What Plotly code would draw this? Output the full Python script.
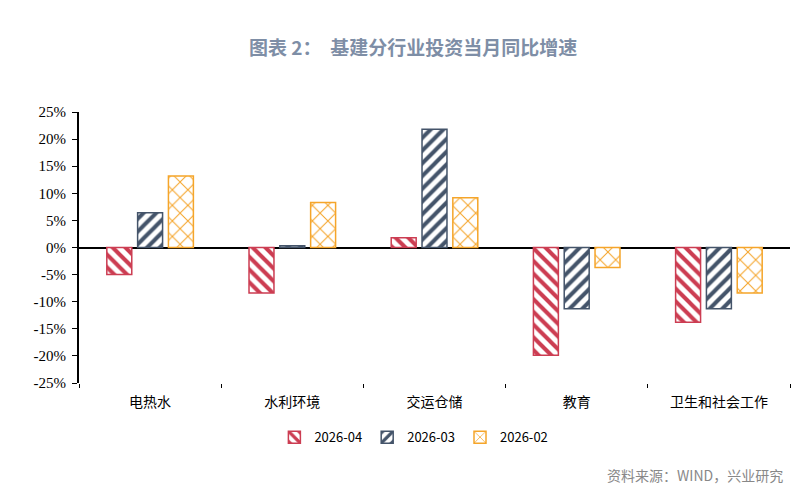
import plotly.graph_objects as go

# 基建分行业投资当月同比增速 (%)
categories = ["电热水", "水利环境", "交运仓储", "教育", "卫生和社会工作"]
apr_2026 = [-5.0, -8.4, 1.8, -19.9, -13.8]
mar_2026 = [6.4, 0.3, 21.8, -11.3, -11.3]
feb_2026 = [13.2, 8.3, 9.2, -3.7, -8.4]

series_names = ["2026-04", "2026-03", "2026-02"]
y_ticks = [25, 20, 15, 10, 5, 0, -5, -10, -15, -20, -25]
y_labels = ["25%", "20%", "15%", "10%", "5%", "0%", "-5%", "-10%", "-15%", "-20%", "-25%"]

RED = "#CC3D52"
BLUE = "#44546A"
ORANGE = "#F5A52A"

fig = go.Figure()

# 三组柱子：红色反斜线、蓝色斜线、橙色网格
for name, vals, color, shape, size, solid in [
    (series_names[0], apr_2026, RED, "\\", 9, 0.45),
    (series_names[1], mar_2026, BLUE, "/", 9, 0.45),
    (series_names[2], feb_2026, ORANGE, "x", 11, 0.18),
]:
    fig.add_trace(go.Bar(
        name=name,
        x=categories,
        y=vals,
        marker=dict(
            color="white",
            line=dict(color=color, width=1.5),
            pattern=dict(shape=shape, fgcolor=color, bgcolor="white", fgopacity=1,
                         size=size, solidity=solid, fillmode="replace"),
        ),
    ))

# 页面自带约8px边距，这里的边距已扣除
fig.update_layout(
    width=805,
    height=499,
    paper_bgcolor="white",
    plot_bgcolor="white",
    barmode="group",
    bargap=0.35,
    bargroupgap=0.19,
    margin=dict(l=71, r=23, t=104, b=124, autoexpand=False),
    font=dict(family="Noto Sans CJK SC", color="black"),
    legend=dict(
        orientation="h",
        x=0.471, xanchor="center",
        y=-0.2, yanchor="middle",
        font=dict(size=13, family="Noto Sans CJK SC"),
        itemwidth=30,
    ),
    showlegend=True,
    xaxis=dict(
        tickson="boundaries",
        ticks="outside",
        ticklen=4,
        tickcolor="black",
        showline=False,
        tickfont=dict(size=14, family="Noto Sans CJK SC"),
        ticklabelstandoff=9,
        showgrid=False,
    ),
    yaxis=dict(
        range=[-25, 25],
        tickvals=y_ticks,
        ticktext=y_labels,
        ticks="outside",
        ticklen=5,
        tickcolor="black",
        showline=True,
        linecolor="black",
        linewidth=2,
        showgrid=False,
        zeroline=True,
        zerolinecolor="black",
        zerolinewidth=2,
        tickfont=dict(size=15, family="Liberation Serif"),
        ticklabelstandoff=3,
    ),
)

fig.add_annotation(
    text="<b>图表 2：  基建分行业投资当月同比增速</b>",
    xref="paper", yref="paper", x=0.47, y=1.0, yshift=66,
    xanchor="center", yanchor="middle", showarrow=False,
    font=dict(size=19, color="#7E8EA6", family="Noto Sans CJK SC"),
)
fig.add_annotation(
    text="资料来源：WIND，兴业研究",
    xref="paper", yref="paper", x=1.0, y=0.0, yshift=-92, xshift=-5,
    xanchor="right", yanchor="middle", showarrow=False,
    font=dict(size=14, color="#888888", family="Noto Sans CJK SC"),
)

fig.write_html("out.html")
